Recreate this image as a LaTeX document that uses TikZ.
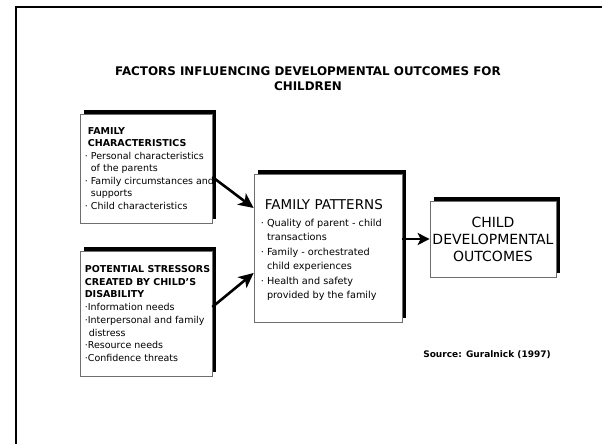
\documentclass[tikz,border=0pt]{standalone}
\usepackage{fontspec}
\setmainfont{DejaVu Sans}
\usetikzlibrary{arrows.meta, shadows}
\definecolor{boxline}{RGB}{110,110,110}
\tikzset{
    box/.style={
        rectangle, draw=boxline, line width=0.7pt, fill=white,
        general shadow={fill=black, shadow xshift=3.5pt, shadow yshift=4.5pt},
        inner sep=0pt
    },
    boxtext/.style={
        anchor=west, align=left, inner sep=0pt,
        font=\fontsize{9.5}{12.5}\selectfont
    },
    heading/.style={align=center, font=\fontsize{11.9}{15}\selectfont\bfseries},
    influence/.style={draw=black, line width=2.6pt, -{Stealth[length=15pt, width=14pt, inset=4pt]}},
    result/.style={influence, -{Stealth[length=12pt, width=12pt, inset=3pt]}},
    frameline/.style={draw=black, line width=2.5pt}
}
\newcommand{\bul}{·\ }
\newcommand{\ind}{\hphantom{·\ }}

\begin{document}
\begin{tikzpicture}[x=1pt, y=-1pt]
\useasboundingbox (0,0) rectangle (602,444);

% Frame
\draw[frameline] (16,444) -- (16,7) -- (602,7);

% Title
\node[heading] (title) at (308,78.5) {FACTORS INFLUENCING DEVELOPMENTAL OUTCOMES FOR\\CHILDREN};

% Boxes
\node[box, minimum width=132pt, minimum height=109pt] (famchar) at (146,168.5) {};
\node[box, minimum width=132pt, minimum height=125pt] (stress) at (146,313.5) {};
\node[box, minimum width=148pt, minimum height=148pt] (fampat) at (328,248) {};
\node[box, minimum width=126pt, minimum height=76pt, align=center,
      font=\fontsize{14}{17}\selectfont] (outcome) at (493,239) {CHILD\\DEVELOPMENTAL\\OUTCOMES};

% Box texts
\node[boxtext] (famchartext) at ([xshift=5pt]famchar.west)
    {\hspace*{3pt}\textbf{FAMILY}\\
     \hspace*{3pt}\textbf{CHARACTERISTICS}\\
     \bul Personal characteristics\\
     \ind of the parents\\
     \bul Family circumstances and\\
     \ind supports\\
     \bul Child characteristics};
\node[boxtext, font=\fontsize{9.5}{12.7}\selectfont] (stresstext) at ([xshift=5pt]stress.west)
    {\textbf{POTENTIAL STRESSORS}\\
     \textbf{CREATED BY CHILD'S}\\
     \textbf{DISABILITY}\\
     ·Information needs\\
     ·Interpersonal and family\\
     \hspace*{4pt}distress\\
     ·Resource needs\\
     ·Confidence threats};
\node[boxtext, font=\fontsize{9.7}{14.5}\selectfont] (fampattext) at ([xshift=7pt, yshift=-2pt]fampat.west)
    {\hspace*{4pt}{\fontsize{13.5}{17}\selectfont FAMILY PATTERNS}\\[2pt]
     \bul Quality of parent - child\\
     \ind transactions\\
     \bul Family - orchestrated\\
     \ind child experiences\\
     \bul Health and safety\\
     \ind provided by the family};

% Source
\node[font=\fontsize{9}{11}\selectfont\bfseries] (source) at (487,355) {Source: Guralnick (1997)};

% Arrows
\draw[influence] ([yshift=-8.5pt]famchar.east) -- ([yshift=40pt]fampat.west);
\draw[influence] ([yshift=6.5pt]stress.east) -- ([yshift=-25pt]fampat.west);
\draw[result] ([yshift=9pt]fampat.east) -- (outcome.west);

\end{tikzpicture}
\end{document}
